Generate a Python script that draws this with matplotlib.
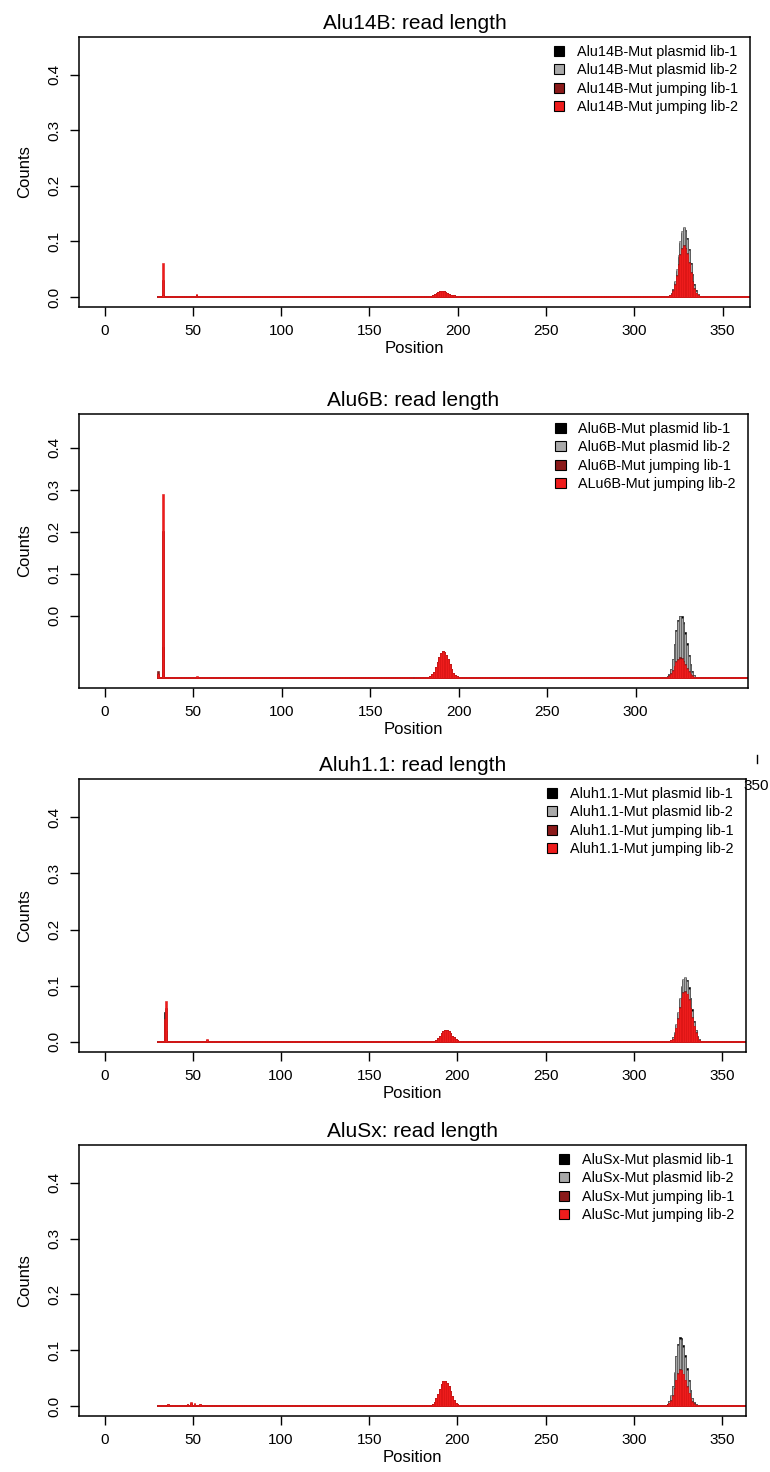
import numpy as np
import matplotlib.pyplot as plt
from matplotlib.patches import Patch
from matplotlib.lines import Line2D

plt.rcParams['font.family'] = ['Liberation Sans', 'DejaVu Sans']

# read positions covered by the libraries
positions = np.arange(30, 366)
base_level = 0.0015

lib_colors = ['#000000', '#a9a9a9', '#8b1a1a', '#ee1c1c']
lib_edges = ['#000000', '#555555', '#6a1010', '#e01515']

# ---------------- Alu14B ----------------
a14_title = 'Alu14B: read length'
a14_labels = ['Alu14B-Mut plasmid lib-1', 'Alu14B-Mut plasmid lib-2',
              'Alu14B-Mut jumping lib-1', 'Alu14B-Mut jumping lib-2']
a14_spike_pos = [33, 52]
a14_spike_black = [0.004, 0.003]
a14_spike_gray = [0.003, 0.002]
a14_spike_darkred = [0.030, 0.004]
a14_spike_red = [0.062, 0.006]
a14_bump_start = 184
a14_bump = [0.001, 0.002, 0.003, 0.005, 0.007, 0.009, 0.010, 0.011, 0.010, 0.009,
            0.007, 0.006, 0.004, 0.003, 0.003, 0.002, 0.002, 0.001, 0.001]
a14_peak_start = 318
a14_peak_black = [0.001, 0.002, 0.004, 0.007, 0.014, 0.027, 0.047, 0.072, 0.097, 0.116, 0.124,
                  0.121, 0.107, 0.087, 0.062, 0.041, 0.024, 0.012, 0.005, 0.002, 0.001]
a14_peak_gray = [0.001, 0.002, 0.004, 0.008, 0.015, 0.029, 0.050, 0.076, 0.101, 0.119, 0.126,
                 0.119, 0.104, 0.084, 0.060, 0.040, 0.022, 0.011, 0.005, 0.002, 0.001]
a14_peak_darkred = [0.001, 0.001, 0.003, 0.006, 0.012, 0.023, 0.040, 0.060, 0.078, 0.089, 0.093,
                    0.089, 0.079, 0.063, 0.045, 0.029, 0.016, 0.008, 0.004, 0.002, 0.001]
a14_peak_red = [0.001, 0.001, 0.003, 0.005, 0.011, 0.022, 0.038, 0.058, 0.076, 0.087, 0.091,
                0.087, 0.077, 0.061, 0.043, 0.027, 0.015, 0.008, 0.003, 0.001, 0.001]

# ---------------- Alu6B ----------------
a6_title = 'Alu6B: read length'
a6_labels = ['Alu6B-Mut plasmid lib-1', 'Alu6B-Mut plasmid lib-2',
             'Alu6B-Mut jumping lib-1', 'ALu6B-Mut jumping lib-2']
a6_spike_pos = [30, 33, 52]
a6_spike_black = [0.010, 0.074, 0.002]
a6_spike_gray = [0.005, 0.050, 0.002]
a6_spike_darkred = [0.017, 0.350, 0.003]
a6_spike_red = [0.008, 0.438, 0.004]
a6_bump_start = 183
a6_bump = [0.002, 0.004, 0.008, 0.015, 0.025, 0.037, 0.049, 0.058, 0.064, 0.062,
           0.055, 0.044, 0.032, 0.021, 0.012, 0.007, 0.004, 0.002, 0.001]
a6_peak_start = 316
a6_peak_black = [0.001, 0.002, 0.004, 0.010, 0.022, 0.045, 0.080, 0.115, 0.138, 0.147, 0.146,
                 0.132, 0.110, 0.082, 0.055, 0.032, 0.016, 0.007, 0.003, 0.001, 0.001]
a6_peak_gray = [0.001, 0.002, 0.004, 0.010, 0.021, 0.044, 0.078, 0.112, 0.136, 0.146, 0.143,
                0.128, 0.105, 0.078, 0.052, 0.030, 0.015, 0.006, 0.003, 0.001, 0.001]
a6_peak_darkred = [0.001, 0.002, 0.003, 0.006, 0.011, 0.019, 0.029, 0.039, 0.046, 0.049, 0.047,
                   0.041, 0.033, 0.024, 0.016, 0.010, 0.006, 0.003, 0.002, 0.001, 0.001]
a6_peak_red = [0.001, 0.002, 0.003, 0.005, 0.010, 0.017, 0.027, 0.037, 0.043, 0.046, 0.044,
               0.038, 0.030, 0.022, 0.015, 0.009, 0.005, 0.003, 0.002, 0.001, 0.001]
# the y labels of this panel sit 0.148 above the real zero
a6_tick_offset = 0.148

# ---------------- Aluh1.1 ----------------
ah_title = 'Aluh1.1: read length'
ah_labels = ['Aluh1.1-Mut plasmid lib-1', 'Aluh1.1-Mut plasmid lib-2',
             'Aluh1.1-Mut jumping lib-1', 'Aluh1.1-Mut jumping lib-2']
ah_spike_pos = [34, 35, 58]
ah_spike_black = [0.053, 0.020, 0.002]
ah_spike_gray = [0.020, 0.020, 0.002]
ah_spike_darkred = [0.035, 0.060, 0.003]
ah_spike_red = [0.041, 0.072, 0.005]
ah_bump_start = 186
ah_bump = [0.001, 0.002, 0.004, 0.007, 0.011, 0.015, 0.019, 0.021, 0.021, 0.019,
           0.015, 0.011, 0.008, 0.005, 0.003, 0.002, 0.001, 0.001]
ah_peak_start = 319
ah_peak_black = [0.001, 0.002, 0.004, 0.008, 0.016, 0.030, 0.051, 0.076, 0.097, 0.111, 0.114,
                 0.110, 0.097, 0.079, 0.058, 0.038, 0.022, 0.011, 0.005, 0.002, 0.001]
ah_peak_gray = [0.001, 0.002, 0.004, 0.008, 0.017, 0.032, 0.053, 0.078, 0.099, 0.112, 0.116,
                0.108, 0.094, 0.076, 0.055, 0.036, 0.021, 0.010, 0.005, 0.002, 0.001]
ah_peak_darkred = [0.001, 0.001, 0.003, 0.006, 0.013, 0.025, 0.042, 0.062, 0.079, 0.088, 0.090,
                   0.086, 0.076, 0.061, 0.044, 0.029, 0.017, 0.008, 0.004, 0.002, 0.001]
ah_peak_red = [0.001, 0.001, 0.003, 0.006, 0.012, 0.024, 0.041, 0.061, 0.078, 0.087, 0.089,
               0.085, 0.075, 0.060, 0.043, 0.028, 0.016, 0.008, 0.004, 0.002, 0.001]

# ---------------- AluSx ----------------
sx_title = 'AluSx: read length'
sx_labels = ['AluSx-Mut plasmid lib-1', 'AluSx-Mut plasmid lib-2',
             'AluSx-Mut jumping lib-1', 'AluSc-Mut jumping lib-2']
sx_spike_pos = [36, 47, 49, 51, 54]
sx_spike_black = [0.002, 0.002, 0.003, 0.002, 0.002]
sx_spike_gray = [0.002, 0.002, 0.003, 0.002, 0.002]
sx_spike_darkred = [0.003, 0.003, 0.005, 0.004, 0.003]
sx_spike_red = [0.004, 0.003, 0.007, 0.005, 0.004]
sx_bump_start = 184
sx_bump = [0.001, 0.002, 0.004, 0.008, 0.014, 0.022, 0.031, 0.039, 0.044, 0.045,
           0.042, 0.035, 0.026, 0.018, 0.011, 0.006, 0.003, 0.002, 0.001]
sx_peak_start = 317
sx_peak_black = [0.001, 0.002, 0.004, 0.009, 0.018, 0.035, 0.060, 0.089, 0.111, 0.123, 0.122,
                 0.110, 0.091, 0.068, 0.046, 0.028, 0.015, 0.007, 0.003, 0.001, 0.001]
sx_peak_gray = [0.001, 0.002, 0.004, 0.009, 0.019, 0.036, 0.061, 0.090, 0.110, 0.120, 0.118,
                0.106, 0.087, 0.065, 0.044, 0.027, 0.014, 0.007, 0.003, 0.001, 0.001]
sx_peak_darkred = [0.001, 0.001, 0.003, 0.005, 0.010, 0.019, 0.032, 0.047, 0.059, 0.066, 0.065,
                   0.058, 0.047, 0.035, 0.024, 0.015, 0.009, 0.005, 0.002, 0.001, 0.001]
sx_peak_red = [0.001, 0.001, 0.002, 0.005, 0.009, 0.018, 0.031, 0.046, 0.058, 0.065, 0.064,
               0.057, 0.046, 0.034, 0.023, 0.014, 0.008, 0.004, 0.002, 0.001, 0.001]


def build(spike_pos, spike_vals, bump_start, bump, peak_start, peak):
    y = np.full(len(positions), base_level)
    for p, v in zip(spike_pos, spike_vals):
        y[p - positions[0]] = v
    i = bump_start - positions[0]
    y[i:i + len(bump)] = bump
    i = peak_start - positions[0]
    y[i:i + len(peak)] = peak
    return y


W, H = 770, 1472
fig = plt.figure(figsize=(W / 100, H / 100), dpi=100)

# pixel boxes (left, right, top, bottom) of the four panels
boxes = [(79, 750, 37, 307), (79, 748, 414, 688), (79, 746, 779, 1052), (79, 746, 1145, 1416)]

panels = [
    (a14_title, a14_labels, a14_spike_pos,
     [a14_spike_black, a14_spike_gray, a14_spike_darkred, a14_spike_red],
     a14_bump_start, a14_bump, a14_peak_start,
     [a14_peak_black, a14_peak_gray, a14_peak_darkred, a14_peak_red]),
    (a6_title, a6_labels, a6_spike_pos,
     [a6_spike_black, a6_spike_gray, a6_spike_darkred, a6_spike_red],
     a6_bump_start, a6_bump, a6_peak_start,
     [a6_peak_black, a6_peak_gray, a6_peak_darkred, a6_peak_red]),
    (ah_title, ah_labels, ah_spike_pos,
     [ah_spike_black, ah_spike_gray, ah_spike_darkred, ah_spike_red],
     ah_bump_start, ah_bump, ah_peak_start,
     [ah_peak_black, ah_peak_gray, ah_peak_darkred, ah_peak_red]),
    (sx_title, sx_labels, sx_spike_pos,
     [sx_spike_black, sx_spike_gray, sx_spike_darkred, sx_spike_red],
     sx_bump_start, sx_bump, sx_peak_start,
     [sx_peak_black, sx_peak_gray, sx_peak_darkred, sx_peak_red]),
]

for k, (title, labels, sp, svals, bstart, bump, pstart, peaks) in enumerate(panels):
    l, r, t, b = boxes[k]
    ax = fig.add_axes([l / W, 1 - b / H, (r - l) / W, (b - t) / H])
    for j in range(4):
        y = build(sp, svals[j], bstart, bump, pstart, peaks[j])
        ax.bar(positions, y, width=1.0, color=lib_colors[j], edgecolor=lib_edges[j],
               linewidth=0.4)
    ax.set_xlim(-14.5, 365.5 if k == 0 else 363.5)
    if k == 1:
        ax.set_ylim(-0.0242, 0.628)
        ax.set_yticks([a6_tick_offset + 0.1 * i for i in range(5)])
        ax.set_yticklabels(['0.0', '0.1', '0.2', '0.3', '0.4'])
        ax.set_xticks(np.arange(0, 301, 50))
    else:
        ax.set_ylim(-0.018, 0.468)
        ax.set_yticks(np.arange(0, 0.41, 0.1))
        ax.set_yticklabels(['0.0', '0.1', '0.2', '0.3', '0.4'])
        ax.set_xticks(np.arange(0, 351, 50))
    for s in ax.spines.values():
        s.set_linewidth(1.1)
    ax.tick_params(axis='both', direction='out', length=6.5, width=1.0, labelsize=11, pad=6)
    for lab in ax.get_yticklabels():
        lab.set_rotation(90)
        lab.set_va('center')
    ax.set_title(title, fontsize=15, pad=6)
    ax.set_xlabel('Position', fontsize=12, labelpad=2)
    ax.set_ylabel('Counts', fontsize=12, labelpad=11)
    handles = [Patch(facecolor=c, edgecolor='black', linewidth=0.8) for c in lib_colors]
    ax.legend(handles, labels, loc='upper right', bbox_to_anchor=(1 - 12 / (r - l), 1 - 8 / (b - t)),
              frameon=False, fontsize=10.4, handlelength=0.7, handleheight=0.7,
              handletextpad=0.9, labelspacing=0.3, borderpad=0, borderaxespad=0)

# stray "350" tick left over from the second panel
fig.add_artist(Line2D([757 / W, 757 / W], [1 - 755 / H, 1 - 763 / H], color='black', linewidth=1.0))
fig.text(756 / W, 1 - 786 / H, '350', fontsize=11, ha='center', va='center')

fig.savefig('out.png', dpi=100)
